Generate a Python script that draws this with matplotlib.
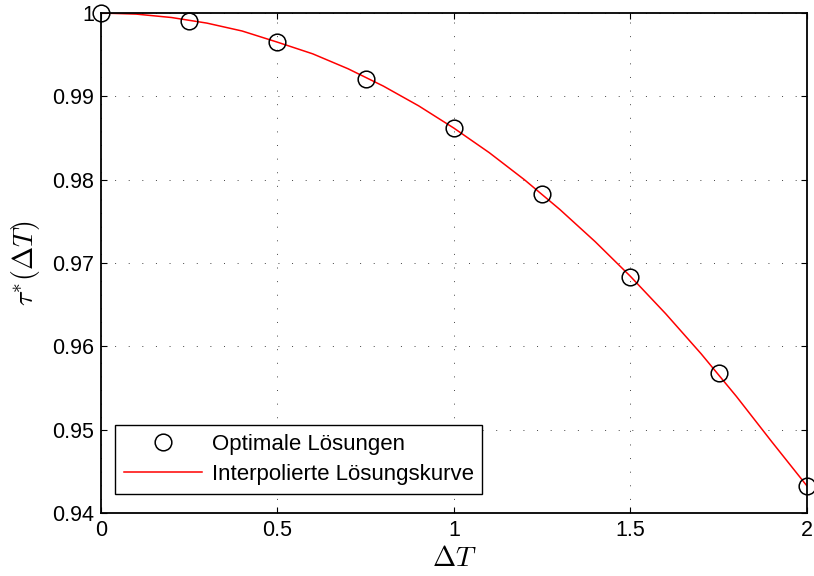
import matplotlib
matplotlib.use("Agg")
import matplotlib.pyplot as plt

plt.rcParams['font.family'] = ['Liberation Sans', 'DejaVu Sans']
plt.rcParams['mathtext.fontset'] = 'cm'

# optimal solutions
dT = [0, 0.25, 0.5, 0.75, 1.0, 1.25, 1.5, 1.75, 2.0]
tau = [1.0, 0.99904, 0.99648, 0.99208, 0.98616, 0.97824, 0.96836, 0.95676, 0.94324]

# interpolated curve
dT_curve = [0, 0.1, 0.2, 0.3, 0.4, 0.5, 0.6, 0.7, 0.8, 0.9, 1.0,
            1.1, 1.2, 1.3, 1.4, 1.5, 1.6, 1.7, 1.8, 1.9, 2.0]
tau_curve = [1.0, 0.99987, 0.99946, 0.99879, 0.99784, 0.99650, 0.99510, 0.99331,
             0.99123, 0.98886, 0.98618, 0.98324, 0.97998, 0.97642, 0.97256, 0.96839,
             0.96390, 0.95911, 0.95399, 0.94856, 0.94324]

fig = plt.figure(figsize=(8.14, 5.76), dpi=100)
ax = fig.add_axes([0.124, 0.1094, 0.8674, 0.868])

ax.plot(dT, tau, 'o', mfc='none', mec='black', ms=12, mew=1.1, label='Optimale Lösungen', clip_on=False, zorder=3)
ax.plot(dT_curve, tau_curve, '-', color='red', lw=1.1, label='Interpolierte Lösungskurve', zorder=2)

ax.set_xlim(0, 2)
ax.set_ylim(0.94, 1.0)
ax.set_xticks([0, 0.5, 1, 1.5, 2])
ax.set_xticklabels(['0', '0.5', '1', '1.5', '2'])
ax.set_yticks([0.94, 0.95, 0.96, 0.97, 0.98, 0.99, 1.0])
ax.set_yticklabels(['0.94', '0.95', '0.96', '0.97', '0.98', '0.99', '1'])

ax.grid(True, linestyle=(0, (1, 13)), color='#444444', linewidth=0.7)
ax.tick_params(direction='in', top=True, right=True, labelsize=15.5, length=4.5, width=0.8, pad=5)
for s in ax.spines.values():
    s.set_linewidth(1.3)

ax.set_xlabel(r'$\Delta T$', fontsize=20, labelpad=4)
ax.set_ylabel(r'$\tau^{*}(\Delta T)$', fontsize=20, labelpad=7)

leg = ax.legend(loc='lower left', bbox_to_anchor=(0.0198, 0.038), borderaxespad=0,
                fontsize=16, frameon=True, fancybox=False, edgecolor='black',
                framealpha=1, handlelength=3.5, handletextpad=0.45, labelspacing=0.4)
leg.get_frame().set_linewidth(1.0)

fig.savefig('out.png', dpi=100)
